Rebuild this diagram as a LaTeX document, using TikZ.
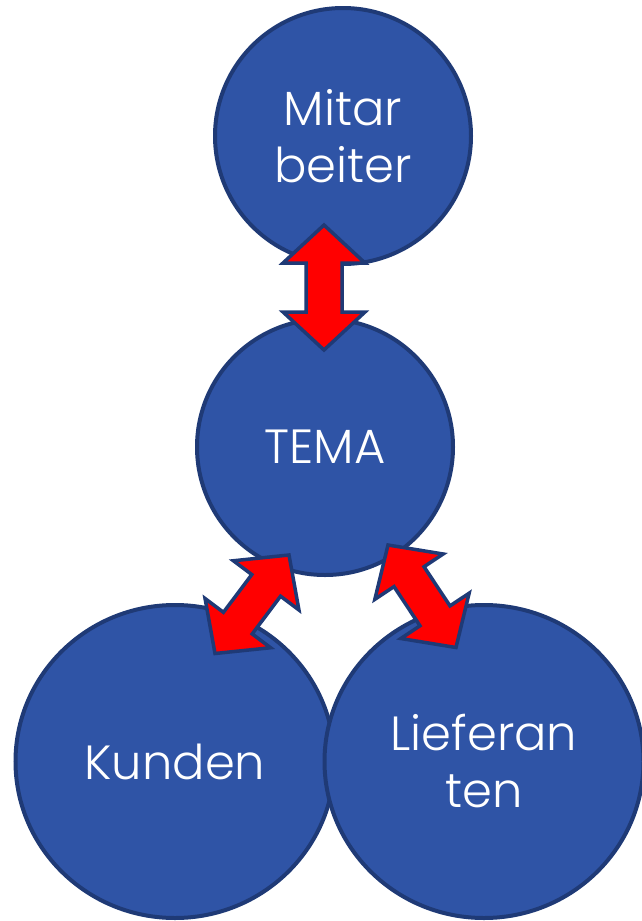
\documentclass[tikz,border=0pt]{standalone}
\usepackage{fontspec}
\setmainfont{Poppins Light}
\usetikzlibrary{positioning, calc, shapes.geometric}

\definecolor{discblue}{RGB}{47,84,166}
\definecolor{rimblue}{RGB}{31,58,118}

% block double arrow between two named points
\newcommand{\dblarrow}[2]{%
  \draw[blockarrow] (#1)
    -- ($(#1)!38pt!(#2)!41pt!90:(#2)$)
    -- ($(#1)!38pt!(#2)!18pt!90:(#2)$)
    -- ($(#2)!38pt!(#1)!18pt!-90:(#1)$)
    -- ($(#2)!38pt!(#1)!41pt!-90:(#1)$)
    -- (#2)
    -- ($(#2)!38pt!(#1)!41pt!90:(#1)$)
    -- ($(#2)!38pt!(#1)!18pt!90:(#1)$)
    -- ($(#1)!38pt!(#2)!18pt!-90:(#2)$)
    -- ($(#1)!38pt!(#2)!41pt!-90:(#2)$)
    -- cycle;}

\begin{document}
\begin{tikzpicture}[x=1pt, y=-1pt,
    disc/.style={fill=discblue, draw=rimblue, line width=4pt, text=white, align=center,
      font=\fontsize{48}{57}\selectfont},
    small/.style={disc, circle, minimum size=256pt},
    big/.style={disc, ellipse, minimum width=319pt, minimum height=313pt},
    blockarrow/.style={fill=red, draw=rimblue, line width=3.5pt, line join=miter}]
        \useasboundingbox (0,0) rectangle (642,921);

        % Nodes
        \node[small] (tema) at (325,447) {TEMA};
        \node[small] (mit) [above=51pt of tema, xshift=18pt] {Mitar\\beiter};
        \node[big] (kun) [below=26pt of tema, xshift=-150pt] {Kunden};
        \node[big] (lief) [right=-14pt of kun] {Lieferan\\ten};

        % Arrow ends
        \coordinate (mt1) at ($(tema)+(-1,-222)$);
        \coordinate (mt2) at ($(tema)+(-1,-97)$);
        \coordinate (kt1) at ($(tema)+(-36,108)$);
        \coordinate (kt2) at ($(kun)+(40,-108)$);
        \coordinate (lt1) at ($(tema)+(63,98)$);
        \coordinate (lt2) at ($(lief)+(-28,-114)$);

        % Arrows
        \foreach \i/\j in {mt1/mt2, kt1/kt2, lt1/lt2} {
                \dblarrow{\i}{\j}
        }
\end{tikzpicture}
\end{document}
